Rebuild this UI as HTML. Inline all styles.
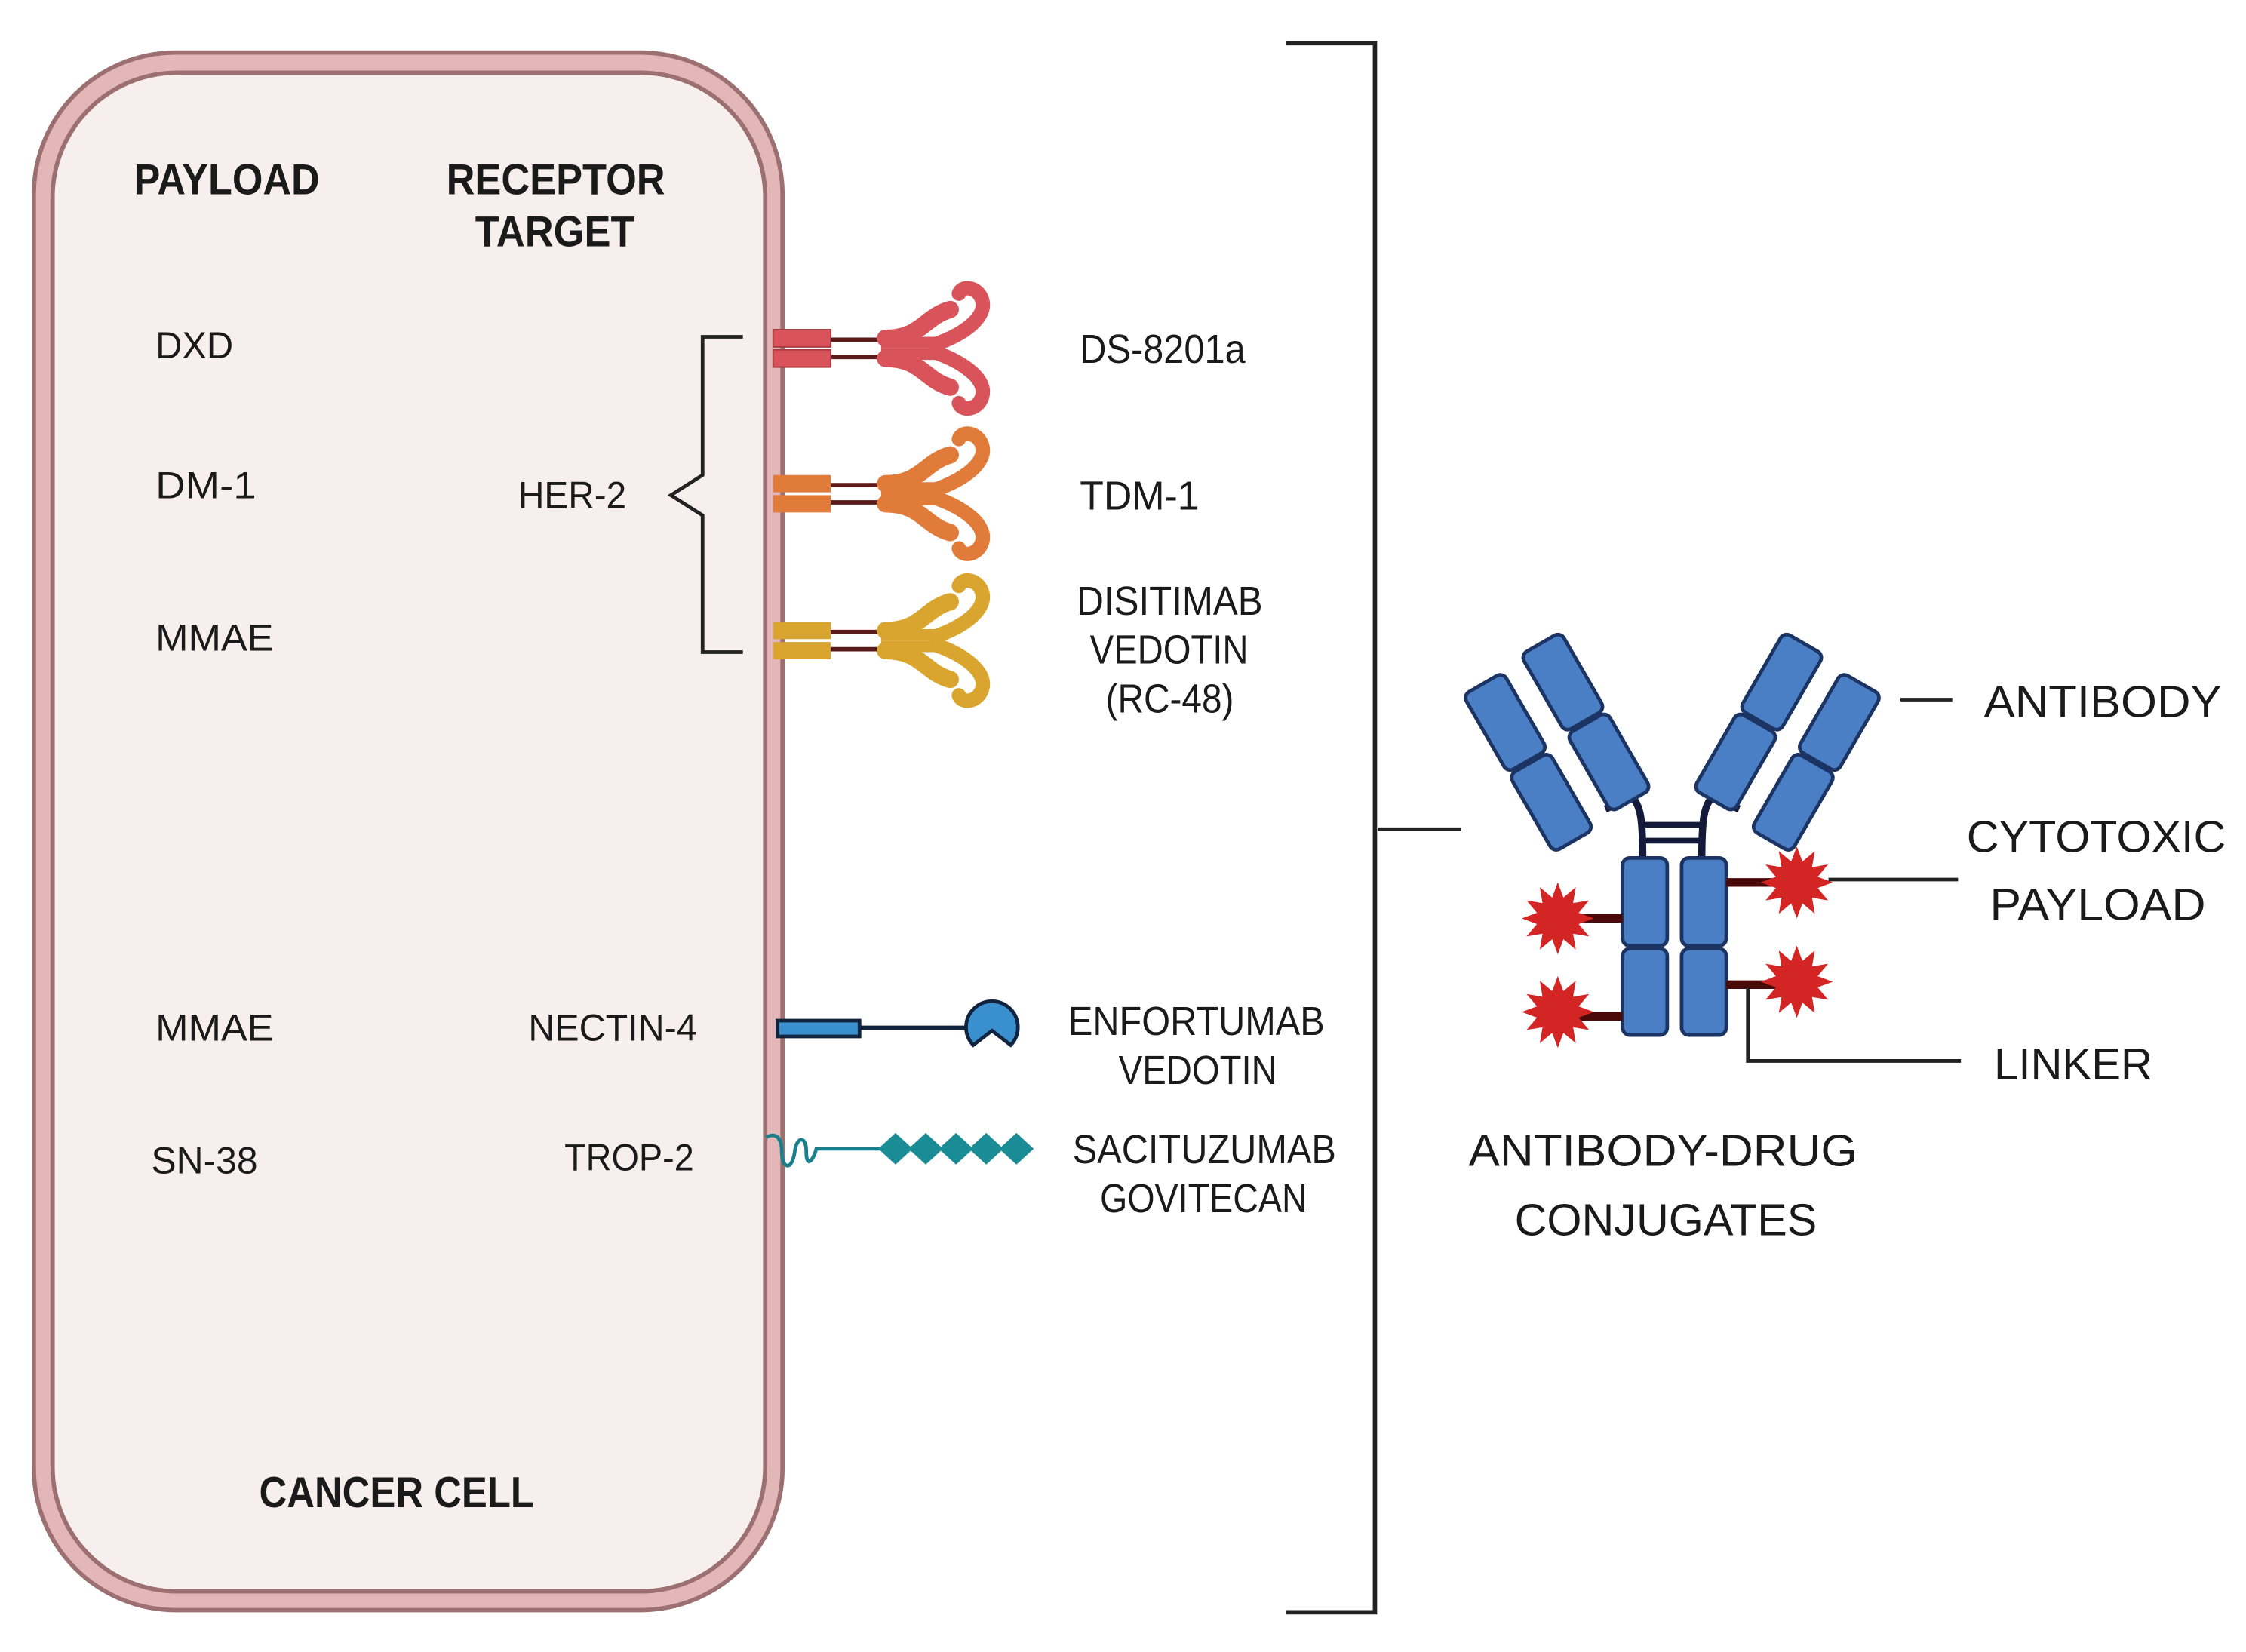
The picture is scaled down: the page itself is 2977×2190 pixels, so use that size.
<!DOCTYPE html>
<html><head><meta charset="utf-8"><style>
html,body{margin:0;padding:0;background:#fff;}
svg{display:block;}
text{font-family:"Liberation Sans",sans-serif;fill:#1a1a1a;}
.h{font-weight:bold;font-size:30px;}
.t{font-size:26px;}
.r{font-size:28px;}
.b{font-size:31px;}
</style></head><body>
<svg width="2977" height="2190" viewBox="0 0 1560 1147.6" preserveAspectRatio="none" xmlns="http://www.w3.org/2000/svg">
<defs>
<polygon id="star" fill="#d42525" points="25,0 14.5,3.9 21.7,12.5 10.6,10.6 12.5,21.7 3.9,14.5 0,25 -3.9,14.5 -12.5,21.7 -10.6,10.6 -21.7,12.5 -14.5,3.9 -25,0 -14.5,-3.9 -21.7,-12.5 -10.6,-10.6 -12.5,-21.7 -3.9,-14.5 0,-25 3.9,-14.5 12.5,-21.7 10.6,-10.6 21.7,-12.5 14.5,-3.9"/>
<g id="arm">
<path d="M615,-7 C640,-7 642,-22 660,-27" fill="none" stroke-width="12" stroke-linecap="round"/>
<path d="M650,-3 C670,-10 686,-22 682,-34 C679,-43 668,-44 666,-38" fill="none" stroke-width="10" stroke-linecap="round"/>
<path d="M612,-4 L655,-4" stroke-width="8"/>
</g>
<g id="col" fill="#4a7fc6" stroke="#1b3463" stroke-width="2.5">
<rect x="-16" y="0" width="32" height="62" rx="5"/>
<rect x="-16" y="64" width="32" height="62" rx="5"/>
</g>
</defs>

<rect x="22" y="35" width="523" height="1085" rx="100" fill="#9c7070"/>
<rect x="25" y="38" width="517" height="1079" rx="97" fill="#e3b6b8"/>
<rect x="35" y="49" width="498" height="1058" rx="88" fill="#9c7070"/>
<rect x="38" y="52" width="492" height="1052" rx="85" fill="#f7eeee"/>

<g lengthAdjust="spacingAndGlyphs">
<text class="h" x="93" y="135" textLength="129" lengthAdjust="spacingAndGlyphs">PAYLOAD</text>
<text class="h" x="310" y="135" textLength="152" lengthAdjust="spacingAndGlyphs">RECEPTOR</text>
<text class="h" x="330" y="171" textLength="111" lengthAdjust="spacingAndGlyphs">TARGET</text>
<text class="t" x="108" y="249" textLength="54" lengthAdjust="spacingAndGlyphs">DXD</text>
<text class="t" x="108" y="346" textLength="70" lengthAdjust="spacingAndGlyphs">DM-1</text>
<text class="t" x="108" y="452" textLength="82" lengthAdjust="spacingAndGlyphs">MMAE</text>
<text class="t" x="108" y="723" textLength="82" lengthAdjust="spacingAndGlyphs">MMAE</text>
<text class="t" x="105" y="815" textLength="74" lengthAdjust="spacingAndGlyphs">SN-38</text>
<text class="t" x="360" y="353" textLength="75" lengthAdjust="spacingAndGlyphs">HER-2</text>
<text class="t" x="367" y="723" textLength="117" lengthAdjust="spacingAndGlyphs">NECTIN-4</text>
<text class="t" x="392" y="813" textLength="90" lengthAdjust="spacingAndGlyphs">TROP-2</text>
<text class="h" x="180" y="1047" textLength="191" lengthAdjust="spacingAndGlyphs">CANCER CELL</text>
</g>

<path d="M516,234 L488,234 L488,330 L466,344 L488,358 L488,453 L516,453" fill="none" stroke="#222" stroke-width="2.5"/>

<g transform="translate(0,242)">
<rect x="537" y="-13" width="40" height="12" fill="#d9545a" stroke="#a83a40" stroke-width="1"/>
<rect x="537" y="1" width="40" height="12" fill="#d9545a" stroke="#a83a40" stroke-width="1"/>
<line x1="577" y1="-6" x2="615" y2="-6" stroke="#5a1a1a" stroke-width="3"/><line x1="577" y1="6" x2="615" y2="6" stroke="#5a1a1a" stroke-width="3"/>
<g stroke="#d9545a"><use href="#arm"/><use href="#arm" transform="scale(1,-1)"/></g>
</g>
<g transform="translate(0,343)">
<rect x="537" y="-13" width="40" height="12" fill="#e07b3a"/>
<rect x="537" y="1" width="40" height="12" fill="#e07b3a"/>
<line x1="577" y1="-6" x2="615" y2="-6" stroke="#5a1a1a" stroke-width="3"/><line x1="577" y1="6" x2="615" y2="6" stroke="#5a1a1a" stroke-width="3"/>
<g stroke="#e07b3a"><use href="#arm"/><use href="#arm" transform="scale(1,-1)"/></g>
</g>
<g transform="translate(0,445)">
<rect x="537" y="-13" width="40" height="12" fill="#d9a52e"/>
<rect x="537" y="1" width="40" height="12" fill="#d9a52e"/>
<line x1="577" y1="-6" x2="615" y2="-6" stroke="#5a1a1a" stroke-width="3"/><line x1="577" y1="6" x2="615" y2="6" stroke="#5a1a1a" stroke-width="3"/>
<g stroke="#d9a52e"><use href="#arm"/><use href="#arm" transform="scale(1,-1)"/></g>
</g>

<text class="r" x="750" y="252" textLength="115" lengthAdjust="spacingAndGlyphs">DS-8201a</text>
<text class="r" x="750" y="354" textLength="83" lengthAdjust="spacingAndGlyphs">TDM-1</text>
<text class="r" x="748" y="427" textLength="129" lengthAdjust="spacingAndGlyphs">DISITIMAB</text>
<text class="r" x="757" y="461" textLength="110" lengthAdjust="spacingAndGlyphs">VEDOTIN</text>
<text class="r" x="768" y="495" textLength="89" lengthAdjust="spacingAndGlyphs">(RC-48)</text>

<rect x="540" y="709" width="57" height="11" fill="#3a8fcf" stroke="#10243f" stroke-width="2.5"/>
<line x1="597" y1="714" x2="675" y2="714" stroke="#10243f" stroke-width="3"/>
<path d="M676,726 A18,18 0 1 1 702,726 L689,716 Z" fill="#3a8fcf" stroke="#10243f" stroke-width="2.5"/>
<text class="r" x="742" y="719" textLength="178" lengthAdjust="spacingAndGlyphs">ENFORTUMAB</text>
<text class="r" x="777" y="753" textLength="110" lengthAdjust="spacingAndGlyphs">VEDOTIN</text>

<path d="M532,790 C540,786 543,792 543,800 C543,812 550,814 552,800 C553,790 560,788 560,800 C560,812 565,806 567,798 L620,798" fill="none" stroke="#1a7f8c" stroke-width="2.5"/>
<g fill="#1a8c95">
<polygon points="610,798 622,787 634,798 622,809"/>
<polygon points="631,798 643,787 655,798 643,809"/>
<polygon points="652,798 664,787 676,798 664,809"/>
<polygon points="673,798 685,787 697,798 685,809"/>
<polygon points="694,798 706,787 718,798 706,809"/>
</g>
<text class="r" x="745" y="808" textLength="183" lengthAdjust="spacingAndGlyphs">SACITUZUMAB</text>
<text class="r" x="764" y="842" textLength="144" lengthAdjust="spacingAndGlyphs">GOVITECAN</text>

<path d="M893,30 L955,30 L955,1120 L893,1120" fill="none" stroke="#222" stroke-width="3"/>
<line x1="957" y1="576" x2="1015" y2="576" stroke="#222" stroke-width="2.5"/>

<path d="M1133,553 C1140,560 1141,570 1141,598 M1190,553 C1183,560 1182,570 1182,598" fill="none" stroke="#141a3a" stroke-width="5"/>
<line x1="1141" y1="573" x2="1182" y2="573" stroke="#141a3a" stroke-width="4"/>
<line x1="1141" y1="584" x2="1182" y2="584" stroke="#141a3a" stroke-width="4"/>
<line x1="1115" y1="562" x2="1130" y2="556" stroke="#141a3a" stroke-width="5"/>
<line x1="1208" y1="562" x2="1193" y2="556" stroke="#141a3a" stroke-width="5"/>
<use href="#col" transform="translate(1070,447) rotate(-30)"/>
<use href="#col" transform="translate(1030,475) rotate(-30)"/>
<use href="#col" transform="translate(1253,447) rotate(30)"/>
<use href="#col" transform="translate(1293,475) rotate(30)"/>
<g fill="#4a7fc6" stroke="#1b3463" stroke-width="2.5">
<rect x="1127" y="596" width="31" height="61" rx="5"/>
<rect x="1127" y="659" width="31" height="60" rx="5"/>
<rect x="1168" y="596" width="31" height="61" rx="5"/>
<rect x="1168" y="659" width="31" height="60" rx="5"/>
</g>
<g stroke="#4a0a0a" stroke-width="6">
<line x1="1095" y1="638" x2="1127" y2="638"/>
<line x1="1095" y1="706" x2="1127" y2="706"/>
<line x1="1199" y1="613" x2="1235" y2="613"/>
<line x1="1199" y1="684" x2="1235" y2="684"/>
</g>
<use href="#star" transform="translate(1082,638)"/>
<use href="#star" transform="translate(1082,703)"/>
<use href="#star" transform="translate(1248,613)"/>
<use href="#star" transform="translate(1248,682)"/>

<g stroke="#222" stroke-width="2.5" fill="none">
<line x1="1320" y1="486" x2="1356" y2="486"/>
<line x1="1270" y1="611" x2="1360" y2="611"/>
<path d="M1214,686 L1214,737 L1362,737"/>
</g>
<text class="b" x="1378" y="498" textLength="165" lengthAdjust="spacingAndGlyphs">ANTIBODY</text>
<text class="b" x="1366" y="592" textLength="180" lengthAdjust="spacingAndGlyphs">CYTOTOXIC</text>
<text class="b" x="1382" y="639" textLength="150" lengthAdjust="spacingAndGlyphs">PAYLOAD</text>
<text class="b" x="1385" y="750" textLength="110" lengthAdjust="spacingAndGlyphs">LINKER</text>
<text class="b" x="1020" y="810" textLength="270" lengthAdjust="spacingAndGlyphs">ANTIBODY-DRUG</text>
<text class="b" x="1052" y="858" textLength="210" lengthAdjust="spacingAndGlyphs">CONJUGATES</text>
</svg>
</body></html>
